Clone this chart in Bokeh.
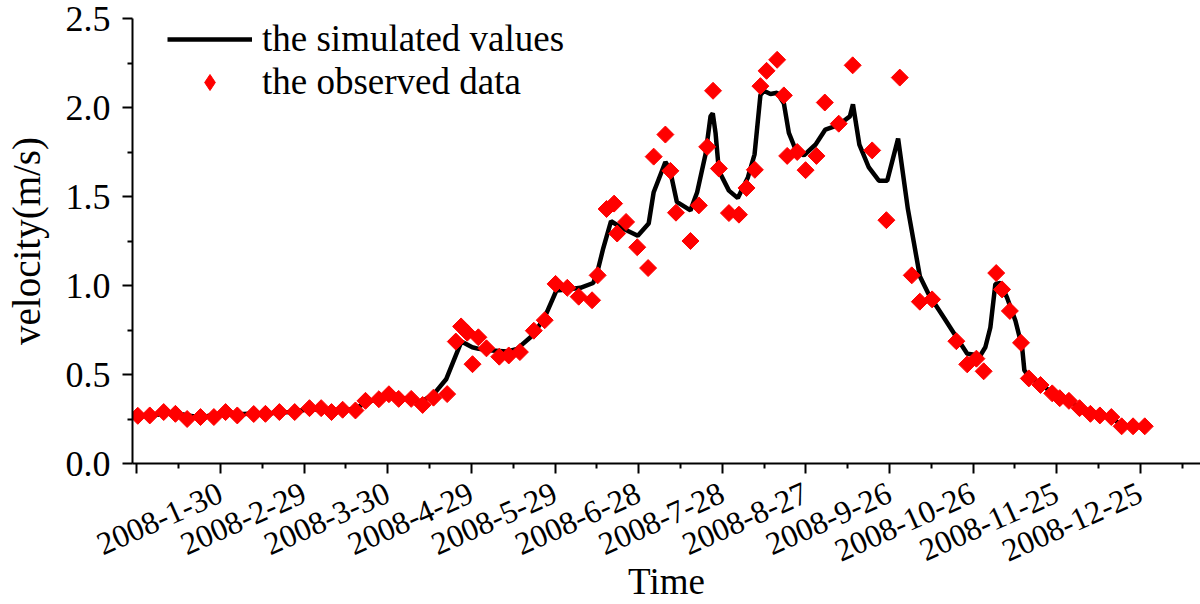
import numpy as np
from bokeh.plotting import figure
from bokeh.models import FixedTicker, Legend, LegendItem, Range1d, NumeralTickFormatter
from bokeh.embed import file_html
from bokeh.resources import INLINE

# ---- data (days counted from 2007-12-31) ----
tick_days = [0, 30, 60, 90, 120, 150, 180, 210, 240, 270, 300, 330, 360]
tick_labels = ["", "2008-1-30", "2008-2-29", "2008-3-30", "2008-4-29", "2008-5-29",
               "2008-6-28", "2008-7-28", "2008-8-27", "2008-9-26", "2008-10-26",
               "2008-11-25", "2008-12-25"]
minor_days = [15, 45, 75, 105, 135, 165, 195, 225, 255, 285, 315, 345, 375]
y_ticks = [0.0, 0.5, 1.0, 1.5, 2.0, 2.5]
y_minor = [0.25, 0.75, 1.25, 1.75, 2.25]

obs_days = [0.3, 4.6, 9.6, 13.8, 18.0, 22.8, 27.6, 31.8, 36.0, 41.9, 46.1, 51.1, 56.6,
            61.9, 66.1, 69.8, 73.8, 78.4, 82.0, 86.8, 90.4, 93.9, 98.4, 102.5, 106.4,
            111.3, 114.4, 116.3, 118.5, 120.4, 122.5, 125.4, 130.0, 133.4, 137.4, 142.4,
            146.3, 150.2, 154.4, 158.5, 163.3, 165.3, 168.5, 171.2, 172.3, 175.5, 179.5,
            183.4, 185.4, 189.6, 191.4, 193.4, 198.6, 201.6, 204.6, 206.7, 208.8, 212.4,
            216.0, 218.7, 221.7, 223.7, 225.9, 229.7, 232.1, 233.3, 236.9, 239.9, 243.8,
            246.8, 251.8, 256.8, 263.8, 268.9, 273.7, 278.0, 280.9, 285.3, 294.0, 297.9,
            301.2, 303.8, 308.3, 310.4, 313.2, 317.2, 320.0, 324.2, 328.4, 331.1, 334.4,
            338.2, 342.1, 345.5, 349.6, 353.3, 357.4, 361.6]
obs_vals = [0.268, 0.270, 0.289, 0.279, 0.250, 0.261, 0.261, 0.289, 0.270, 0.278, 0.279,
            0.289, 0.289, 0.311, 0.311, 0.289, 0.302, 0.298, 0.352, 0.361, 0.389, 0.363,
            0.363, 0.329, 0.370, 0.390, 0.685, 0.770, 0.735, 0.558, 0.709, 0.647, 0.600,
            0.607, 0.626, 0.746, 0.805, 1.009, 0.987, 0.937, 0.917, 1.057, 1.430, 1.460,
            1.292, 1.357, 1.215, 1.098, 1.724, 1.848, 1.644, 1.409, 1.250, 1.450, 1.779,
            2.094, 1.657, 1.407, 1.398, 1.548, 1.650, 2.120, 2.206, 2.268, 2.068, 1.728,
            1.750, 1.648, 1.728, 2.028, 1.909, 2.237, 1.759, 1.367, 2.168, 1.057, 0.909,
            0.922, 0.687, 0.557, 0.589, 0.518, 1.070, 0.978, 0.857, 0.678, 0.478, 0.441,
            0.394, 0.367, 0.352, 0.311, 0.279, 0.270, 0.261, 0.209, 0.209, 0.209]

sim_days = [0, 5, 10, 15, 20, 25, 30, 35, 40, 45, 50, 55, 60, 65, 70, 75, 78.5, 82, 86,
            90, 94, 98, 101.7, 106.5, 111, 116.4, 120.3, 122.6, 127.4, 132.8, 136.4,
            141.2, 146, 150.5, 154.4, 159.1, 163.7, 165.1, 167.3, 170.1, 174.7, 179.7,
            183.6, 185.4, 189.6, 191.2, 193.7, 198.6, 201, 204, 205.8, 206.6, 207.6,
            208.8, 212.4, 215.6, 219.2, 221.6, 223.7, 224.9, 227.3, 229.7, 232.1, 233.9,
            236.3, 239.3, 243.5, 247, 251.8, 255.8, 256.9, 259.2, 262.6, 266.2, 269.2,
            273.1, 276.6, 278.7, 280.9, 284.1, 289.5, 293.7, 297.9, 302.6, 304.4, 306.2,
            308, 309.8, 312.2, 315.2, 317.6, 318.4, 320, 324.2, 328.4, 331.1, 334.4,
            338.2, 342.1, 345.5, 349.6, 353.3, 357.4, 361.6]
sim_vals = [0.27, 0.27, 0.28, 0.28, 0.265, 0.265, 0.28, 0.275, 0.28, 0.28, 0.285, 0.29,
            0.30, 0.305, 0.30, 0.30, 0.31, 0.34, 0.36, 0.375, 0.37, 0.36, 0.345, 0.39,
            0.475, 0.685, 0.653, 0.644, 0.635, 0.629, 0.644, 0.709, 0.811, 0.972, 0.978,
            0.987, 1.014, 1.07, 1.209, 1.361, 1.317, 1.279, 1.348, 1.524, 1.694, 1.653,
            1.47, 1.422, 1.524, 1.737, 1.95, 1.968, 1.857, 1.644, 1.533, 1.491, 1.607,
            1.737, 2.07, 2.094, 2.076, 2.083, 2.024, 1.857, 1.764, 1.731, 1.792, 1.876,
            1.903, 1.95, 2.018, 1.792, 1.663, 1.589, 1.589, 1.825, 1.43, 1.246, 1.052,
            0.95, 0.82, 0.718, 0.617, 0.607, 0.653, 0.764, 1.009, 1.014, 0.931, 0.802,
            0.653, 0.524, 0.487, 0.445, 0.398, 0.37, 0.352, 0.315, 0.285, 0.272, 0.26,
            0.215, 0.21, 0.21]

FONT = "Liberation Serif"

p = figure(width=1200, height=604, output_backend="svg", toolbar_location=None,
           x_range=Range1d(-1.6, 381.6), y_range=Range1d(0, 2.5),
           min_border_left=132, min_border_right=0, min_border_top=18,
           min_border_bottom=140)
p.outline_line_color = None
p.xgrid.visible = False
p.ygrid.visible = False
p.background_fill_color = "white"
p.border_fill_color = "white"

line_r = p.line(sim_days, sim_vals, line_width=4.5, line_color="black")
scat_r = p.scatter(obs_days, obs_vals, marker="square", angle=np.pi / 4, size=12,
                   fill_color="#ff0000", line_color="#ff0000")
# legend-only twin of the observed series (diamond symbol shown in the legend)
legend_diamond = p.scatter(obs_days, obs_vals, marker="diamond", size=16,
                           fill_color="#ff0000", line_color="#ff0000", visible=False)

for ax in (p.xaxis[0], p.yaxis[0]):
    ax.axis_line_width = 2
    ax.axis_line_color = "black"
    ax.major_tick_line_width = 2
    ax.minor_tick_line_width = 2
    ax.major_tick_in = 0
    ax.major_tick_out = 10
    ax.minor_tick_in = 0
    ax.minor_tick_out = 5
    ax.major_label_text_font = FONT
    ax.major_label_text_color = "black"
    ax.axis_label_text_font = FONT
    ax.axis_label_text_font_style = "normal"
    ax.axis_label_text_color = "black"

xa = p.xaxis[0]
xa.ticker = FixedTicker(ticks=tick_days, minor_ticks=minor_days)
xa.major_label_overrides = {d: lab for d, lab in zip(tick_days, tick_labels)}
xa.major_label_orientation = 0.42
xa.major_label_text_font_size = "32px"
xa.major_label_standoff = 18
xa.axis_label = "Time"
xa.axis_label_text_font_size = "37px"
xa.axis_label_standoff = -14

ya = p.yaxis[0]
ya.ticker = FixedTicker(ticks=y_ticks, minor_ticks=y_minor)
ya.formatter = NumeralTickFormatter(format="0.0")
ya.major_label_text_font_size = "36px"
ya.major_label_standoff = 12
ya.axis_label = "velocity(m/s)"
ya.axis_label_text_font_size = "39px"
ya.axis_label_standoff = 15

legend = Legend(items=[LegendItem(label="the simulated values", renderers=[line_r]),
                       LegendItem(label="the observed data", renderers=[legend_diamond])],
                location=(35, 360), glyph_width=85, glyph_height=40, label_standoff=10,
                padding=0, spacing=0, border_line_alpha=0, background_fill_alpha=0,
                label_text_font=FONT, label_text_font_size="37px",
                label_text_color="black")
p.add_layout(legend)

open("out.html", "w").write(file_html(p, INLINE))
